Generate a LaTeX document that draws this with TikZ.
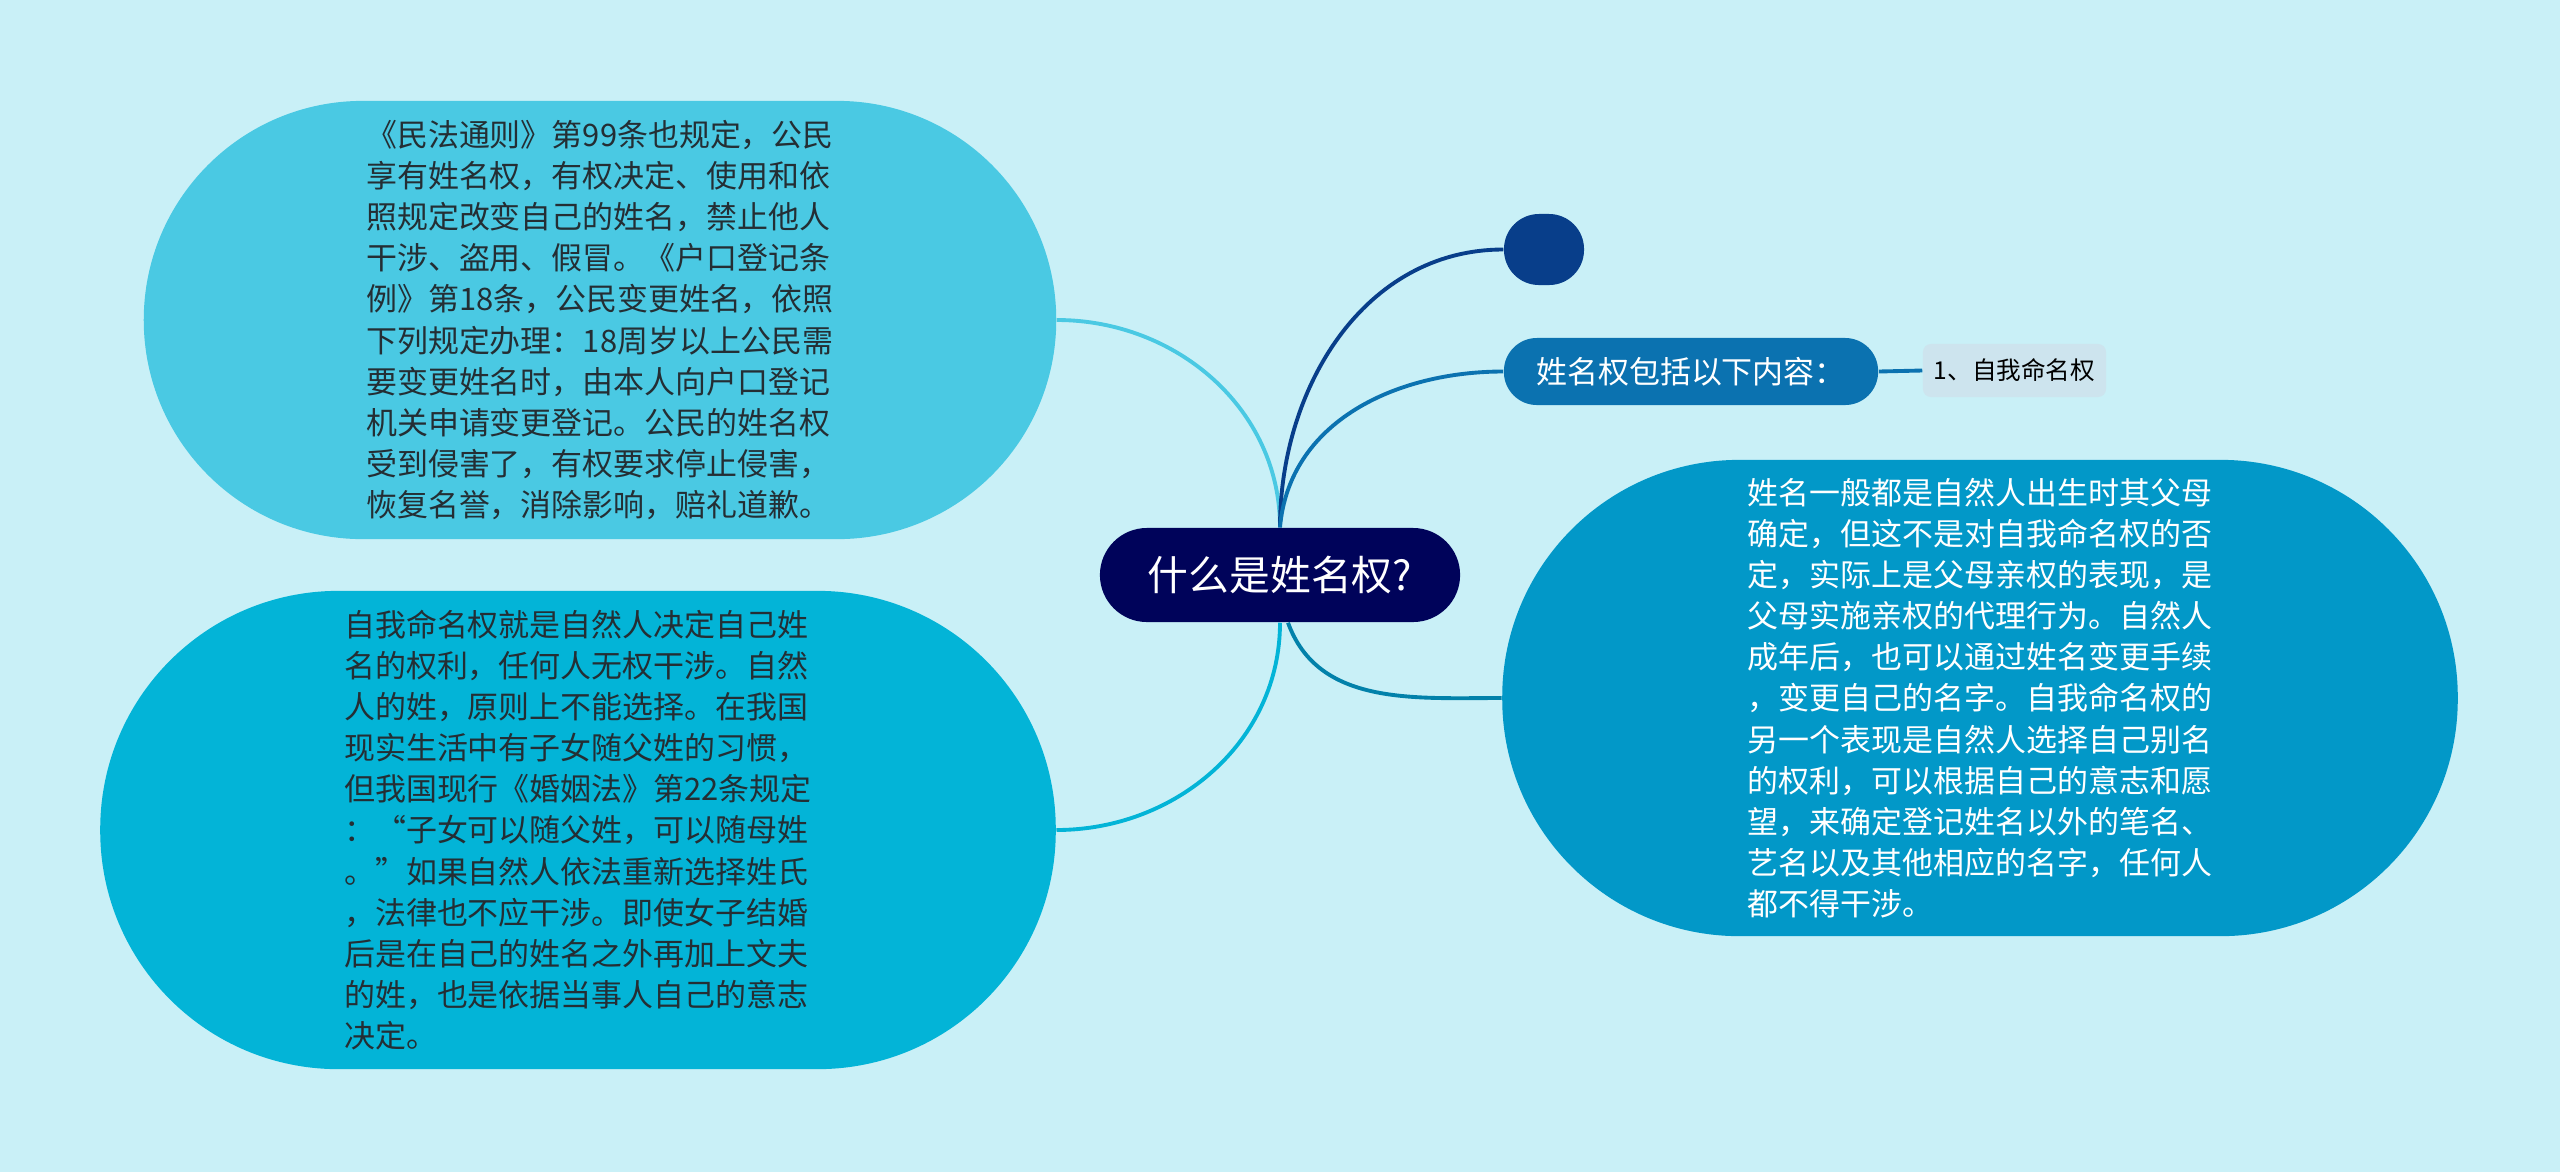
\documentclass[tikz,border=0pt]{standalone}
\usepackage{fontspec}
\newfontfamily\cjk{Noto Sans CJK SC}
\definecolor{BgClr}{RGB}{201,240,247}
\definecolor{RootClr}{RGB}{0,3,90}
\definecolor{LawClr}{RGB}{74,201,227}
\definecolor{SelfClr}{RGB}{3,180,215}
\definecolor{ParentClr}{RGB}{2,152,200}
\definecolor{TopicClr}{RGB}{11,114,176}
\definecolor{DotClr}{RGB}{8,62,138}
\definecolor{LeafClr}{RGB}{205,228,238}
\definecolor{InkClr}{RGB}{36,46,52}

\begin{document}
\begin{tikzpicture}[x=0.01cm,y=-0.01cm,
  bubble/.style={rounded corners=2.19cm,inner sep=0pt,align=left,
    font=\cjk\fontsize{8.8}{11.7}\selectfont},
  pill/.style={inner sep=0pt,align=center,text=white},
  link/.style={line width=1.1pt}]

\fill[BgClr] (0,0) rectangle (2560,1172);
\useasboundingbox (0,0) rectangle (2560,1172);

\node[pill,fill=RootClr,rounded corners=0.47cm,minimum width=3.6cm,minimum height=0.94cm,
  font=\cjk\fontsize{11.6}{14}\selectfont] (root) at (1280,575) {什么是姓名权?};

\node[bubble,fill=LawClr,text=InkClr,minimum width=9.12cm,minimum height=4.38cm] (law) at (600,320)
  {《民法通则》第99条也规定，公民\\享有姓名权，有权决定、使用和依\\照规定改变自己的姓名，禁止他人\\干涉、盗用、假冒。《户口登记条\\例》第18条，公民变更姓名，依照\\下列规定办理：18周岁以上公民需\\要变更姓名时，由本人向户口登记\\机关申请变更登记。公民的姓名权\\受到侵害了，有权要求停止侵害，\\恢复名誉，消除影响，赔礼道歉。};

\node[bubble,fill=SelfClr,text=InkClr,rounded corners=2.38cm,minimum width=9.55cm,minimum height=4.78cm] (self) at (578,830)
  {自我命名权就是自然人决定自己姓\\名的权利，任何人无权干涉。自然\\人的姓，原则上不能选择。在我国\\现实生活中有子女随父姓的习惯，\\但我国现行《婚姻法》第22条规定\\：“子女可以随父姓，可以随母姓\\。”如果自然人依法重新选择姓氏\\，法律也不应干涉。即使女子结婚\\后是在自己的姓名之外再加上文夫\\的姓，也是依据当事人自己的意志\\决定。};

\node[bubble,fill=ParentClr,text=white,rounded corners=2.37cm,minimum width=9.55cm,minimum height=4.76cm] (parent) at (1980,698)
  {姓名一般都是自然人出生时其父母\\确定，但这不是对自我命名权的否\\定，实际上是父母亲权的表现，是\\父母实施亲权的代理行为。自然人\\成年后，也可以通过姓名变更手续\\，变更自己的名字。自我命名权的\\另一个表现是自然人选择自己别名\\的权利，可以根据自己的意志和愿\\望，来确定登记姓名以外的笔名、\\艺名以及其他相应的名字，任何人\\都不得干涉。};

\node[pill,fill=DotClr,rounded corners=0.35cm,minimum width=0.8cm,minimum height=0.71cm] (dot) at (1544,249.5) {};

\node[pill,fill=TopicClr,rounded corners=0.33cm,minimum width=3.74cm,minimum height=0.67cm,
  font=\cjk\fontsize{8.8}{11}\selectfont] (topic) at (1691,371.5) {姓名权包括以下内容：};

\node[pill,fill=LeafClr,text=black,rounded corners=0.08cm,minimum width=1.83cm,minimum height=0.53cm,
  font=\cjk\fontsize{7}{9}\selectfont] (leaf) at (2014.5,370.5) {1、自我命名权};

\draw[link,color=LawClr] (root.north) to[out=90,in=0] (law.east);
\draw[link,color=SelfClr] (root.south) to[out=-90,in=0] (self.east);
\draw[link,color=DotClr] (root.north) to[out=90,in=180] (dot.west);
\draw[link,color=TopicClr] (root.north) to[out=85,in=180] (topic.west);
\draw[link,color=ParentClr!85!black] ([xshift=0.08cm]root.south) to[out=-70,in=180] (parent.west);
\draw[link,color=TopicClr] (topic.east) -- (leaf.west);

\end{tikzpicture}
\end{document}
